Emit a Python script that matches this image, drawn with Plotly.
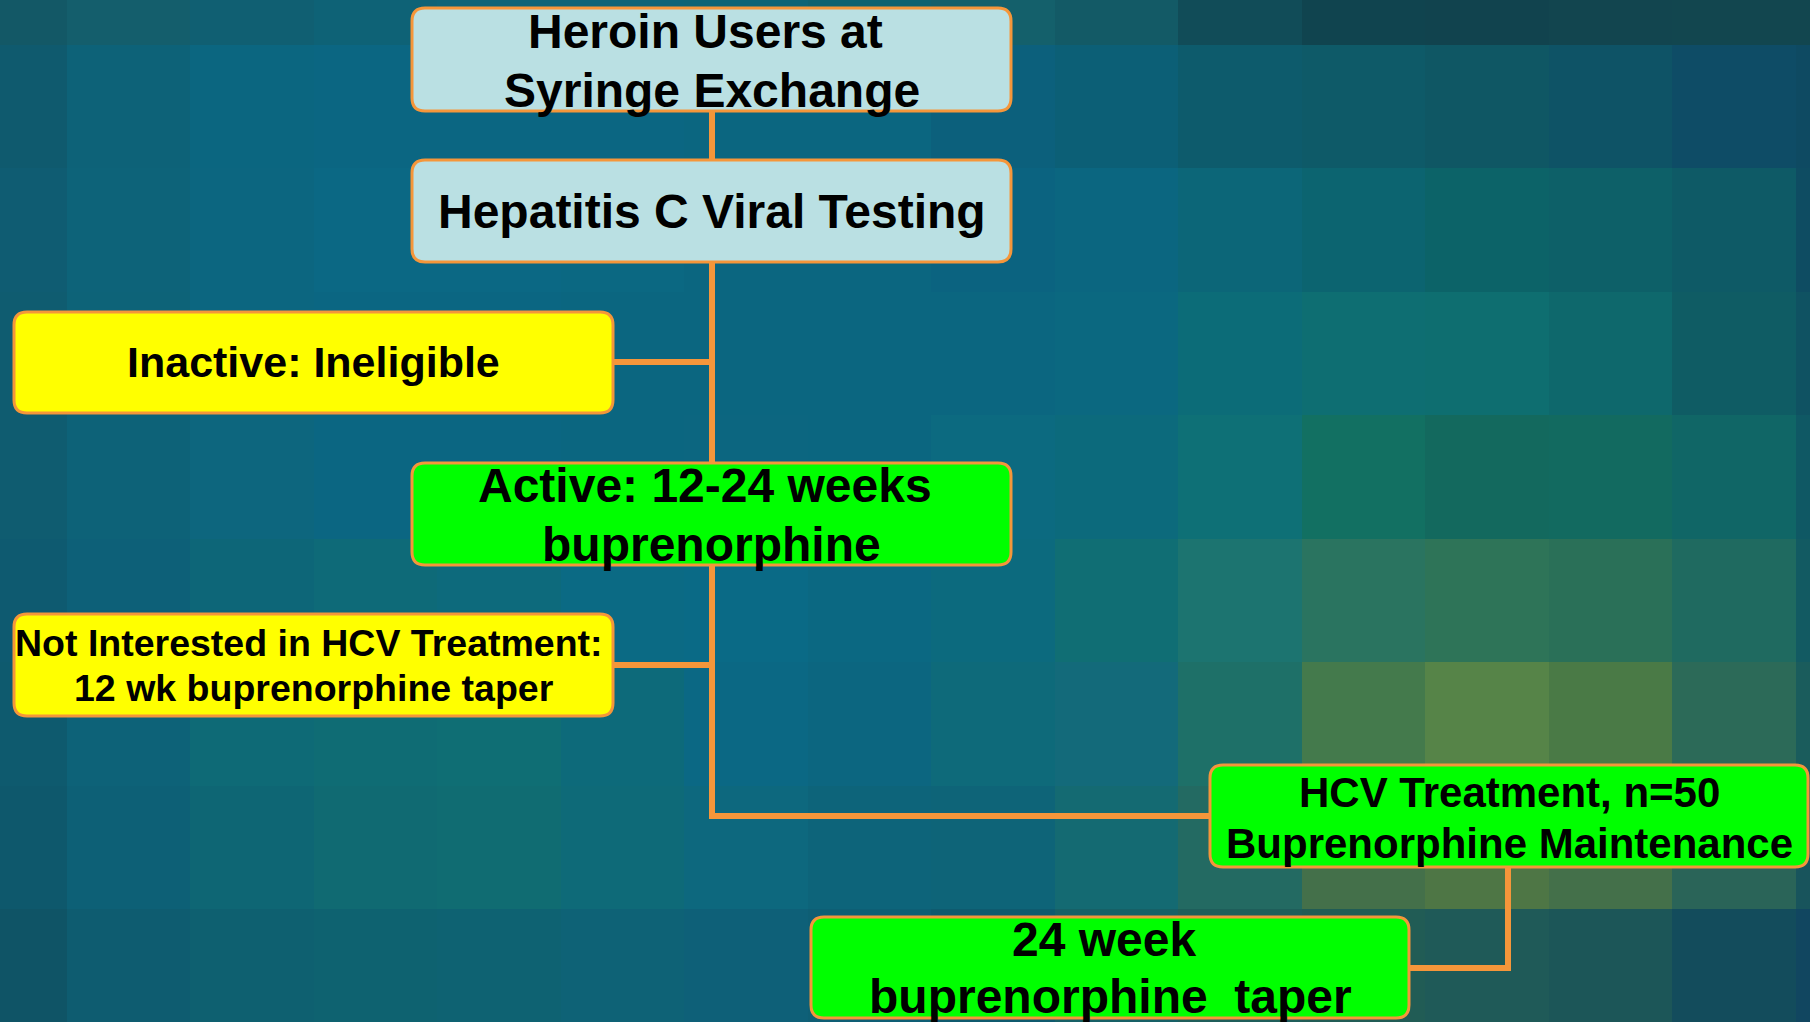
import numpy as np
import plotly.graph_objects as go

# ---------------- data ----------------
# background mosaic colours (rows top -> bottom, columns left -> right)
BG_ROW_0 = ["#135866", "#145e6c", "#105f72", "#0e6276", "#0d6478", "#0d6478", "#0e6476", "#0f6270",
            "#14606b", "#135a66", "#114c58", "#10444f", "#11434e", "#12454f", "#12464f", "#12464f"]
BG_ROW_1 = ["#0f5a6e", "#0d6278", "#0b6680", "#0b6682", "#0b6682", "#0b6682", "#0b6680", "#0b6680",
            "#0c607c", "#0c5f76", "#0d5b6c", "#0e5a68", "#0f5764", "#0e5366", "#0e4c66", "#0e4a62"]
BG_ROW_2 = ["#0f5c72", "#0d6379", "#0c6680", "#0b6884", "#0b6884", "#0b6882", "#0b6680", "#0b6680",
            "#0b6380", "#0b6680", "#0c6678", "#0c6470", "#0c6368", "#0d6068", "#0e5a66", "#0e4c62"]
BG_ROW_3 = ["#0f5c70", "#0d6378", "#0c6680", "#0b6682", "#0b6682", "#0b6680", "#0b6680", "#0b6680",
            "#0b6680", "#0b6880", "#0c6c78", "#0e6e72", "#0e6e70", "#0e686c", "#0f5c64", "#0f5262"]
BG_ROW_4 = ["#0f5c70", "#0d6278", "#0d667e", "#0b6682", "#0b6682", "#0b6680", "#0c6680", "#0b6680",
            "#0c6a80", "#0c6a7c", "#0e7076", "#127062", "#13695e", "#126a60", "#106666", "#0f5864"]
BG_ROW_5 = ["#0e5a70", "#0d6078", "#0d6678", "#0e6a78", "#0d6a7c", "#0b6a84", "#0a6a86", "#0b6882",
            "#0c6a7e", "#106e74", "#1c7470", "#2a7460", "#2e7458", "#2a7058", "#1f6a60", "#125a62"]
BG_ROW_6 = ["#0e5a6e", "#0d6278", "#0e6a76", "#0f6c74", "#0f6e74", "#0d6a7a", "#0b6884", "#0c6680",
            "#0e6a7a", "#136a7a", "#1e7068", "#447a4c", "#568448", "#4a7a46", "#2c6a58", "#1a5c5c"]
BG_ROW_7 = ["#0e586c", "#0d6076", "#0e6674", "#106a72", "#106c72", "#0e6a78", "#0d687e", "#0d647a",
            "#0e6478", "#146a72", "#236a62", "#44704a", "#4e7645", "#44704a", "#2a6458", "#18545c"]
BG_ROW_8 = ["#0f5466", "#0e5c70", "#0e6070", "#0e6270", "#0e6272", "#0e6276", "#0e6078", "#0e5e74",
            "#0f5a6e", "#176066", "#1f5e5a", "#215c55", "#1f5a58", "#1c5658", "#134c5c", "#114660"]
BG_ROWS = [BG_ROW_0, BG_ROW_1, BG_ROW_2, BG_ROW_3, BG_ROW_4, BG_ROW_5, BG_ROW_6, BG_ROW_7, BG_ROW_8]

# flowchart node texts
NODE_TEXT = [
    ["Heroin Users at\u00a0", "Syringe Exchange"],
    ["Hepatitis C Viral Testing"],
    ["Inactive: Ineligible"],
    ["Active: 12-24 weeks\u00a0", "buprenorphine"],
    ["Not Interested in HCV Treatment:\u00a0", "12 wk buprenorphine taper"],
    ["HCV Treatment, n=50", "Buprenorphine Maintenance"],
    ["24 week\u00a0", "buprenorphine\u00a0 taper"],
]

# ---------------- layout / style ----------------
W, H = 1810, 1022
CELL = 123.5
GRID_X0, GRID_Y0 = -57.5, -79.0

ORANGE = "#F5963A"
LIGHTBLUE = "#BAE0E3"
YELLOW = "#FFFF00"
GREEN = "#00FF00"
FONT = "Liberation Sans, Arial, Helvetica, sans-serif"

# node boxes: x0, x1, y0, y1, fill, font size, line centre positions (y)
NODES = [
    dict(x0=412, x1=1011, y0=8,   y1=111,  fill=LIGHTBLUE, size=48, ys=[31.5, 90]),
    dict(x0=412, x1=1011, y0=160, y1=262,  fill=LIGHTBLUE, size=48, ys=[211.5]),
    dict(x0=14,  x1=613,  y0=312, y1=413,  fill=YELLOW,    size=43, ys=[362]),
    dict(x0=412, x1=1011, y0=463, y1=565,  fill=GREEN,     size=48, ys=[485, 544]),
    dict(x0=14,  x1=613,  y0=614, y1=716,  fill=YELLOW,    size=37.5, ys=[642.5, 687.5]),
    dict(x0=1210, x1=1808, y0=765, y1=867, fill=GREEN,     size=42, ys=[792, 843]),
    dict(x0=811, x1=1409, y0=917, y1=1018, fill=GREEN,     size=48, ys=[939, 996.5]),
]

# connectors (polyline vertices)
CONNECTORS = [
    [(712, 111), (712, 160)],
    [(712, 262), (712, 463)],
    [(613, 362), (712, 362)],
    [(712, 565), (712, 816), (1210, 816)],
    [(613, 665), (712, 665)],
    [(1508, 867), (1508, 968), (1409, 968)],
]


def hex2rgb(h):
    return [int(h[i:i + 2], 16) for i in (1, 3, 5)]


def rounded_rect(x0, y0, x1, y1, r):
    return (f"M{x0 + r},{y0} L{x1 - r},{y0} Q{x1},{y0} {x1},{y0 + r} "
            f"L{x1},{y1 - r} Q{x1},{y1} {x1 - r},{y1} L{x0 + r},{y1} "
            f"Q{x0},{y1} {x0},{y1 - r} L{x0},{y0 + r} Q{x0},{y0} {x0 + r},{y0} Z")


z = np.array([[hex2rgb(c) for c in row] for row in BG_ROWS], dtype=np.uint8)

fig = go.Figure()
fig.add_trace(go.Image(z=z, x0=GRID_X0 + CELL / 2, dx=CELL, y0=GRID_Y0 + CELL / 2, dy=CELL,
                       hoverinfo="skip"))

shapes = []
for pts in CONNECTORS:
    path = "M" + " L".join(f"{x},{y}" for x, y in pts)
    shapes.append(dict(type="path", path=path, xref="x", yref="y",
                       line=dict(color=ORANGE, width=6), layer="above"))
for n in NODES:
    shapes.append(dict(type="path", path=rounded_rect(n["x0"], n["y0"], n["x1"], n["y1"], 13),
                       xref="x", yref="y", fillcolor=n["fill"],
                       line=dict(color=ORANGE, width=3), layer="above"))

annotations = []
for n, lines in zip(NODES, NODE_TEXT):
    cx = (n["x0"] + n["x1"]) / 2
    for txt, yy in zip(lines, n["ys"]):
        annotations.append(dict(x=cx, y=yy, xref="x", yref="y", text=txt, showarrow=False,
                                xanchor="center", yanchor="middle",
                                font=dict(family=FONT, size=n["size"], color="black", weight="bold")))

fig.update_layout(
    width=W, height=H,
    margin=dict(l=0, r=0, t=0, b=0),
    paper_bgcolor="#0b6680", plot_bgcolor="#0b6680",
    xaxis=dict(range=[0, W], visible=False, showgrid=False, zeroline=False, fixedrange=True),
    yaxis=dict(range=[H, 0], visible=False, showgrid=False, zeroline=False, fixedrange=True),
    shapes=shapes, annotations=annotations, showlegend=False,
)

fig.write_html("out.html", config={"displayModeBar": False},
               post_script="document.body.style.margin='0';document.body.style.overflow='hidden';")
